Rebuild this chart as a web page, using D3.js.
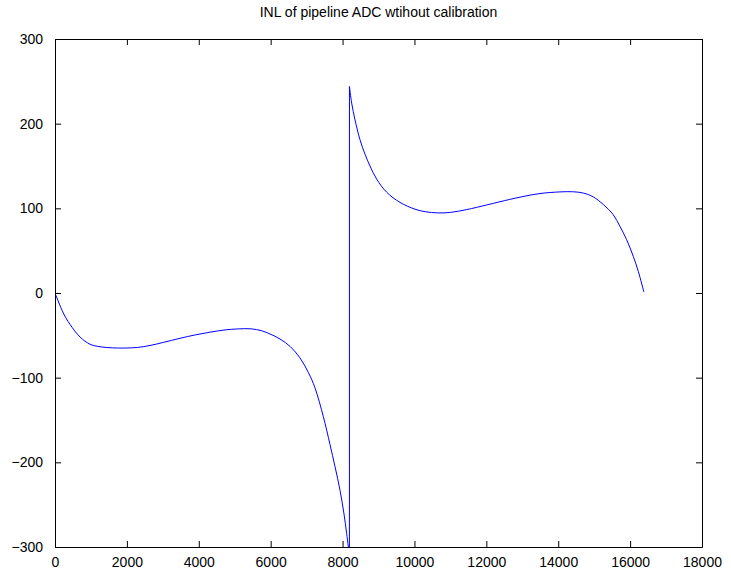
<!DOCTYPE html>
<html>
<head>
<meta charset="utf-8">
<script src="https://cdn.jsdelivr.net/npm/d3@7"></script>
<style>
  html, body { margin: 0; padding: 0; background: #fff; }
  svg { display: block; }
  text { font-family: "Liberation Sans", Arial, sans-serif; fill: #000; }
</style>
</head>
<body>
<script>
// INL (LSB) versus output code, lower half of the code range
const codesLow = [0, 231, 417, 696, 974, 1252, 1600, 1950, 2300, 2643, 3000, 3478, 3900, 4312, 4730, 5100, 5450, 5750, 5981, 6260, 6550, 6816, 7050, 7233, 7465, 7651, 7790, 7929, 8040, 8114, 8191];
const inlLow   = [0, -23.6, -37, -52, -60.5, -63.5, -64.8, -65, -64.3, -62, -58.5, -53.5, -49.5, -46.3, -43.6, -42.4, -42.3, -44.6, -48.4, -54.3, -63.5, -76.7, -94, -112, -146, -179, -205, -233, -261, -284, -310];

// INL (LSB) versus output code, upper half of the code range
const codesHigh = [8192, 8254, 8346, 8485, 8624, 8763, 8949, 9228, 9598, 10015, 10300, 10650, 11000, 11453, 12010, 12380, 12936, 13493, 14048, 14400, 14700, 14976, 15254, 15532, 15718, 15904, 16089, 16228, 16383];
const inlHigh   = [243.9, 224.3, 204.6, 181, 164, 150, 134.5, 119, 107, 99, 96, 94.6, 95.2, 98.5, 104, 107.8, 113.2, 117.5, 119.4, 119.6, 118, 113.5, 104.5, 92.4, 78.6, 62.9, 43.2, 25.5, 1.2];

const xTicks = [0, 2000, 4000, 6000, 8000, 10000, 12000, 14000, 16000, 18000];
const yTicks = [-300, -200, -100, 0, 100, 200, 300];
const title = "INL of pipeline ADC wtihout calibration";

const W = 731, H = 573;
const margin = { left: 55, right: 29, top: 39, bottom: 26 };
const iw = W - margin.left - margin.right;
const ih = H - margin.top - margin.bottom;

const svg = d3.select("body").append("svg").attr("width", W).attr("height", H);
const g = svg.append("g").attr("transform", `translate(${margin.left},${margin.top})`);

const x = d3.scaleLinear().domain([0, 18000]).range([0, iw]);
const y = d3.scaleLinear().domain([-300, 300]).range([ih, 0]);

const zip = (cs, vs) => cs.map((c, i) => [c, vs[i]]);
const lowPts = zip(codesLow, inlLow);
const highPts = zip(codesHigh, inlHigh);
// mid-scale jump joins the end of the lower half to the start of the upper half
const jumpPts = [lowPts[lowPts.length - 1], highPts[0]];

g.append("clipPath").attr("id", "clip")
  .append("rect").attr("width", iw).attr("height", ih);

const smooth = d3.line().x(d => x(d[0])).y(d => y(d[1])).curve(d3.curveCatmullRom.alpha(0.5));
const straight = d3.line().x(d => x(d[0])).y(d => y(d[1]));

const trace = g.append("g").attr("clip-path", "url(#clip)")
  .attr("fill", "none").attr("stroke", "#0000ff").attr("stroke-width", 1);
trace.append("path").attr("d", smooth(lowPts));
trace.append("path").attr("d", straight(jumpPts));
trace.append("path").attr("d", smooth(highPts));

// Axes with inward ticks on all four sides
const tl = 6;
const fmt = d3.format("d");
const axBottom = g.append("g").attr("transform", `translate(0,${ih})`)
  .call(d3.axisBottom(x).tickValues(xTicks).tickFormat(fmt).tickSizeInner(-tl).tickSizeOuter(0).tickPadding(tl + 4));
const axTop = g.append("g")
  .call(d3.axisTop(x).tickValues(xTicks).tickFormat("").tickSizeInner(-tl).tickSizeOuter(0));
const axLeft = g.append("g")
  .call(d3.axisLeft(y).tickValues(yTicks).tickFormat(fmt).tickSizeInner(-tl).tickSizeOuter(0).tickPadding(tl + 6));
const axRight = g.append("g").attr("transform", `translate(${iw},0)`)
  .call(d3.axisRight(y).tickValues(yTicks).tickFormat("").tickSizeInner(-tl).tickSizeOuter(0));

[axBottom, axTop, axLeft, axRight].forEach(a => {
  a.select(".domain").attr("stroke", "#000").attr("stroke-width", 1);
  a.selectAll(".tick line").attr("stroke", "#000");
  a.selectAll("text").attr("font-size", 14).attr("font-family", "Liberation Sans, Arial, sans-serif").attr("fill", "#000");
});

svg.append("text")
  .attr("x", margin.left + iw / 2)
  .attr("y", 17)
  .attr("text-anchor", "middle")
  .attr("font-size", 14)
  .text(title);
</script>
</body>
</html>
